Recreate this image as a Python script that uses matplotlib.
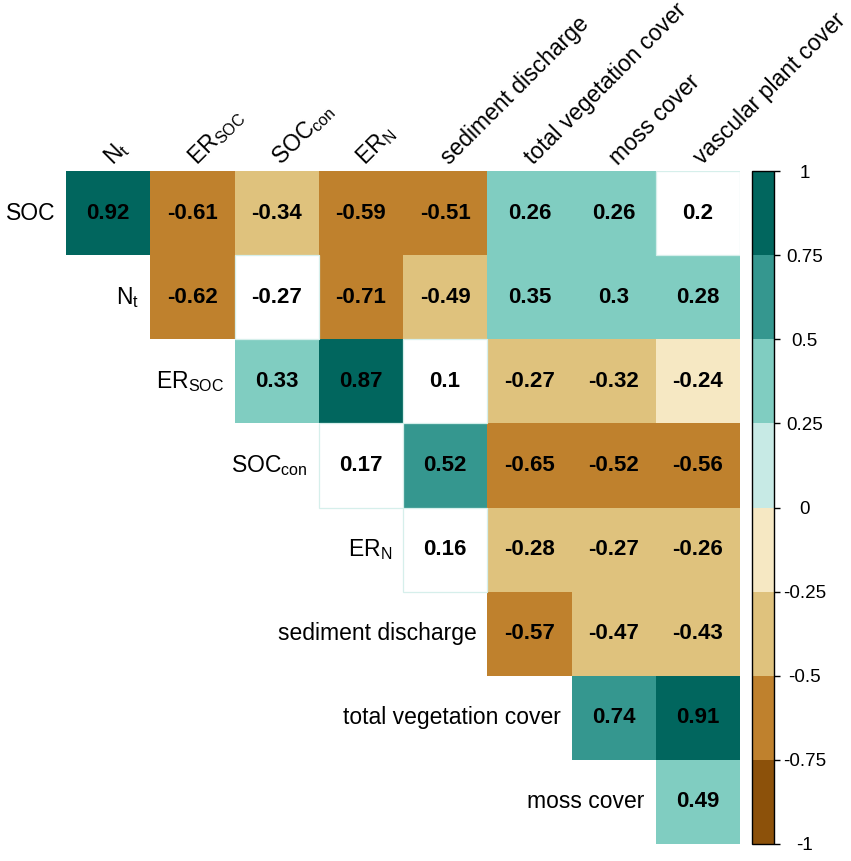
import numpy as np
import matplotlib
matplotlib.use("Agg")
import matplotlib.pyplot as plt
from matplotlib.colors import ListedColormap, BoundaryNorm
from matplotlib.patches import Rectangle
from matplotlib.cm import ScalarMappable

plt.rcParams["font.family"] = ["Liberation Sans", "DejaVu Sans"]
plt.rcParams["mathtext.fontset"] = "custom"
plt.rcParams["mathtext.rm"] = "Liberation Sans"

# row variables (left labels) and column variables (top labels)
row_labels = [r"SOC", r"$\mathregular{N_t}$", r"$\mathregular{ER_{SOC}}$",
              r"$\mathregular{SOC_{con}}$", r"$\mathregular{ER_N}$",
              "sediment discharge", "total vegetation cover", "moss cover"]
col_labels = [r"$\mathregular{N_t}$", r"$\mathregular{ER_{SOC}}$",
              r"$\mathregular{SOC_{con}}$", r"$\mathregular{ER_N}$",
              "sediment discharge", "total vegetation cover", "moss cover",
              "vascular plant cover"]

# correlation values, upper triangle, each row starts at the diagonal
r_soc = [0.92, -0.61, -0.34, -0.59, -0.51, 0.26, 0.26, 0.2]
r_nt = [-0.62, -0.27, -0.71, -0.49, 0.35, 0.3, 0.28]
r_ersoc = [0.33, 0.87, 0.1, -0.27, -0.32, -0.24]
r_soccon = [0.17, 0.52, -0.65, -0.52, -0.56]
r_ern = [0.16, -0.28, -0.27, -0.26]
r_sed = [-0.57, -0.47, -0.43]
r_tvc = [0.74, 0.91]
r_moss = [0.49]
rows = [r_soc, r_nt, r_ersoc, r_soccon, r_ern, r_sed, r_tvc, r_moss]

# non-significant cells (row, col), shown blank
not_significant = [(0, 7), (1, 2), (2, 4), (3, 3), (4, 4)]

colors = ["#8c510a", "#bf812d", "#dfc27d", "#f6e8c3",
          "#c7eae5", "#80cdc1", "#35978f", "#01665e"]
bounds = np.linspace(-1, 1, 9)
cmap = ListedColormap(colors)
norm = BoundaryNorm(bounds, cmap.N)

n = len(row_labels)
mat = np.full((n, n), np.nan)
for i, vals in enumerate(rows):
    mat[i, i:i + len(vals)] = vals
mat = np.ma.masked_invalid(mat)

fig = plt.figure(figsize=(8.51, 8.61), dpi=100)
ax = fig.add_axes([66 / 851, 17 / 861, 674 / 851, 673 / 861])
ax.pcolormesh(np.arange(n + 1), np.arange(n + 1), mat, cmap=cmap, norm=norm)

for (i, j) in not_significant:
    ax.add_patch(Rectangle((j, i), 1, 1, facecolor="white",
                           edgecolor="#d6efeb", lw=0.9))

for i, vals in enumerate(rows):
    for k, v in enumerate(vals):
        ax.text(i + k + 0.5, i + 0.5, f"{v:g}", ha="center", va="center",
                fontsize=16, fontweight="bold", color="black")

for i, lab in enumerate(row_labels):
    ax.text(i - 0.13, i + 0.5, lab, ha="right", va="center", fontsize=16.5)

for j, lab in enumerate(col_labels):
    ax.text(j + 0.55, -0.06, lab, ha="left", va="baseline", rotation=45,
            rotation_mode="anchor", fontsize=16.5)

ax.set_xlim(0, n)
ax.set_ylim(n, 0)
ax.axis("off")

cax = fig.add_axes([752 / 851, 17 / 861, 22 / 851, 673 / 861])
sm = ScalarMappable(norm=norm, cmap=cmap)
cb = fig.colorbar(sm, cax=cax, ticks=bounds)
cb.outline.set_edgecolor("black")
cb.outline.set_linewidth(1.0)
cb.ax.set_yticklabels([f"{t:g}" for t in bounds], ha="center", fontsize=13.5)
cb.ax.tick_params(length=4, width=1, pad=18, color="black")

fig.savefig("out.png", dpi=100)
